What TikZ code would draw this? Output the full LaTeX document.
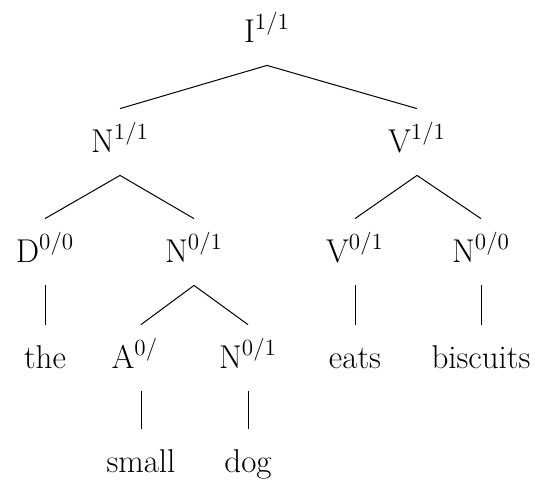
\documentclass[tikz,border=0pt]{standalone}
\usepackage{fontspec}
\usepackage{tikz}

\begin{document}
\begin{tikzpicture}[
  x=0.5pt,y=-0.5pt,
  font=\fontsize{16.5}{19}\selectfont,
  cat/.style={anchor=base,text height=10pt,text depth=0pt,inner xsep=1pt,inner ysep=11.5pt},
  branch/.style={line width=0.5pt,black},
]
\useasboundingbox (0,0) rectangle (535,484);

% Root and phrase level
\node[cat] (infl) at (267,42)  {I\textsuperscript{1/1}};
\node[cat] (np)   at (120,152) {N\textsuperscript{1/1}};
\node[cat] (vp)   at (417,152) {V\textsuperscript{1/1}};
\draw[branch] (infl.south) -- (np.north);
\draw[branch] (infl.south) -- (vp.north);

% Heads
\node[cat] (det)   at (45,262)  {D\textsuperscript{0/0}};
\node[cat] (nbar)  at (194,262) {N\textsuperscript{0/1}};
\node[cat] (verb)  at (355,262) {V\textsuperscript{0/1}};
\node[cat] (obj)   at (481,262) {N\textsuperscript{0/0}};
\draw[branch] (np.south) -- (det.north);
\draw[branch] (np.south) -- (nbar.north);
\draw[branch] (vp.south) -- (verb.north);
\draw[branch] (vp.south) -- (obj.north);

% Words and inner noun
\node[cat] (the)      at (45,368)  {the};
\node[cat] (adj)      at (141,368) {A\textsuperscript{0/}\phantom{\textsuperscript{1}}};
\node[cat] (noun)     at (248,368) {N\textsuperscript{0/1}};
\node[cat] (eats)     at (355,368) {eats};
\node[cat] (biscuits) at (481,368) {biscuits};
\draw[branch] (det.south)  -- (the.north);
\draw[branch] (nbar.south) -- (adj.north);
\draw[branch] (nbar.south) -- (noun.north);
\draw[branch] (verb.south) -- (eats.north);
\draw[branch] (obj.south)  -- (biscuits.north);

% Bottom words
\node[cat] (small) at (141,472) {small};
\node[cat] (dog)   at (248,472) {dog};
\draw[branch] (adj.south)  -- (small.north);
\draw[branch] (noun.south) -- (dog.north);
\end{tikzpicture}
\end{document}
